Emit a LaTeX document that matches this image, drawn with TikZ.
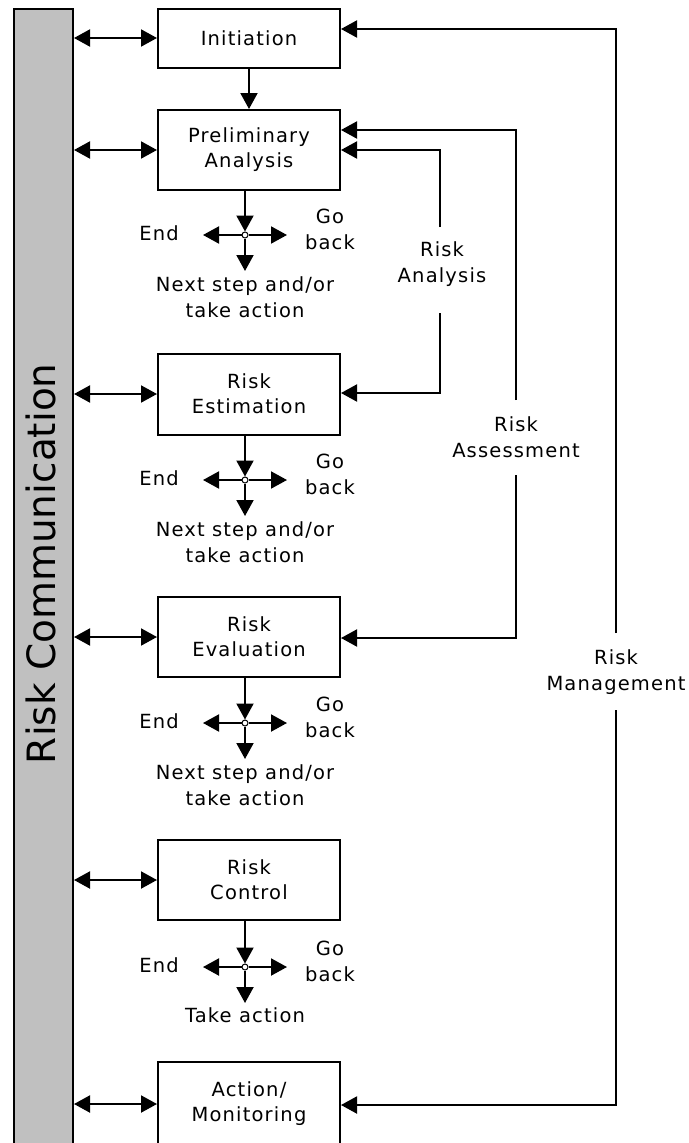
\documentclass[tikz,border=0pt]{standalone}
\usepackage{fontspec}
\setmainfont{DejaVu Sans}
\newfontfamily\lblfont[LetterSpace=6]{DejaVu Sans}
\newfontfamily\commfont{DejaVu Sans}
\usetikzlibrary{arrows.meta}
\definecolor{barfill}{HTML}{C0C0C0}
\begin{document}
\begin{tikzpicture}[x=1pt,y=-1pt,line width=2pt,
  box/.style={draw,line width=2pt,minimum width=182pt,align=center,inner sep=0pt,
    font=\lblfont\fontsize{19.5}{25}\selectfont},
  lbl/.style={align=center,inner sep=0pt,font=\lblfont\fontsize{19.5}{26}\selectfont},
  arr/.style={-{Triangle[length=16pt,width=17pt]}},
  darr/.style={{Triangle[length=16pt,width=17pt]}-{Triangle[length=16pt,width=17pt]}},
  hub/.style={draw,circle,line width=1pt,fill=white,inner sep=0pt,minimum size=6pt}]
\clip (0,0) rectangle (688,1143);
\fill[white] (0,0) rectangle (688,1143);
% communication bar
\node[draw,fill=barfill,line width=2pt,minimum width=59pt,minimum height=1170pt,
  anchor=north west,inner sep=0pt] (bar) at (13,8) {};
\node[rotate=90,anchor=base west,inner sep=0pt,font=\commfont\fontsize{39}{39}\selectfont]
  (comm) at (55,765) {Risk Communication};
% boxes
\node[box,minimum height=59pt] (init) at (249,38) {Initiation};
\node[box,minimum height=80pt] (prel) at (249,150) {Preliminary\\Analysis};
\node[box,minimum height=81pt] (est) at (249,394) {Risk\\Estimation};
\node[box,minimum height=80pt] (eval) at (249,637) {Risk\\Evaluation};
\node[box,minimum height=80pt] (ctrl) at (249,880) {Risk\\Control};
\node[box,minimum height=84pt] (act) at (249,1104) {Action/\\Monitoring};
% bar arrows
\foreach \n in {init,prel,est,eval,ctrl,act}
  \draw[darr] (bar.east |- \n.west) -- (\n.west);
\draw[arr] (init.south) -- (prel.north);
% decision crosses
\foreach \n/\cy in {prel/235,est/480,eval/723,ctrl/967}{
  \node[hub] (h\n) at (245,\cy) {};
  \coordinate (l\n) at (203,\cy);
  \coordinate (r\n) at (287,\cy);
  \coordinate (d\n) at (245,\cy+36);
  \draw[arr] (\n.south -| h\n) -- (h\n.north);
  \draw[arr] (h\n.west) -- (l\n);
  \draw[arr] (h\n.east) -- (r\n);
  \draw[arr] (h\n.south) -- (d\n);
  \node[lbl] (end\n) at (159,\cy-2) {End};
  \node[lbl] (gb\n) at (330,\cy-6) {Go\\back};
}
\node[lbl] (nxprel) at (245,297.5) {Next step and/or\\take action};
\node[lbl] (nxest) at (245,542.5) {Next step and/or\\take action};
\node[lbl] (nxeval) at (245,785.5) {Next step and/or\\take action};
\node[lbl] (nxctrl) at (245,1015) {Take action};
% risk management
\node[lbl] (mgmt) at (616,672) {Risk\\Management};
\coordinate (mgT) at (616,29);
\coordinate (mgA) at (616,633);
\coordinate (mgB) at (616,710);
\coordinate (mgBot) at (616,1105);
\draw[arr] (mgA) -- (mgT) -- (init.east |- mgT);
\draw[arr] (mgB) -- (mgBot) -- (act.east |- mgBot);
% risk assessment
\node[lbl] (asmt) at (516,437.5) {Risk\\Assessment};
\coordinate (asT) at (516,130);
\coordinate (asA) at (516,400);
\coordinate (asB) at (516,475);
\coordinate (asBot) at (516,638);
\draw[arr] (asA) -- (asT) -- (prel.east |- asT);
\draw[arr] (asB) -- (asBot) -- (eval.east |- asBot);
% risk analysis
\node[lbl] (anl) at (442,264) {Risk\\Analysis};
\coordinate (anT) at (440,150);
\coordinate (anA) at (440,227);
\coordinate (anB) at (440,313);
\coordinate (anBot) at (440,393);
\draw[arr] (anA) -- (anT) -- (prel.east |- anT);
\draw[arr] (anB) -- (anBot) -- (est.east |- anBot);
\end{tikzpicture}
\end{document}
